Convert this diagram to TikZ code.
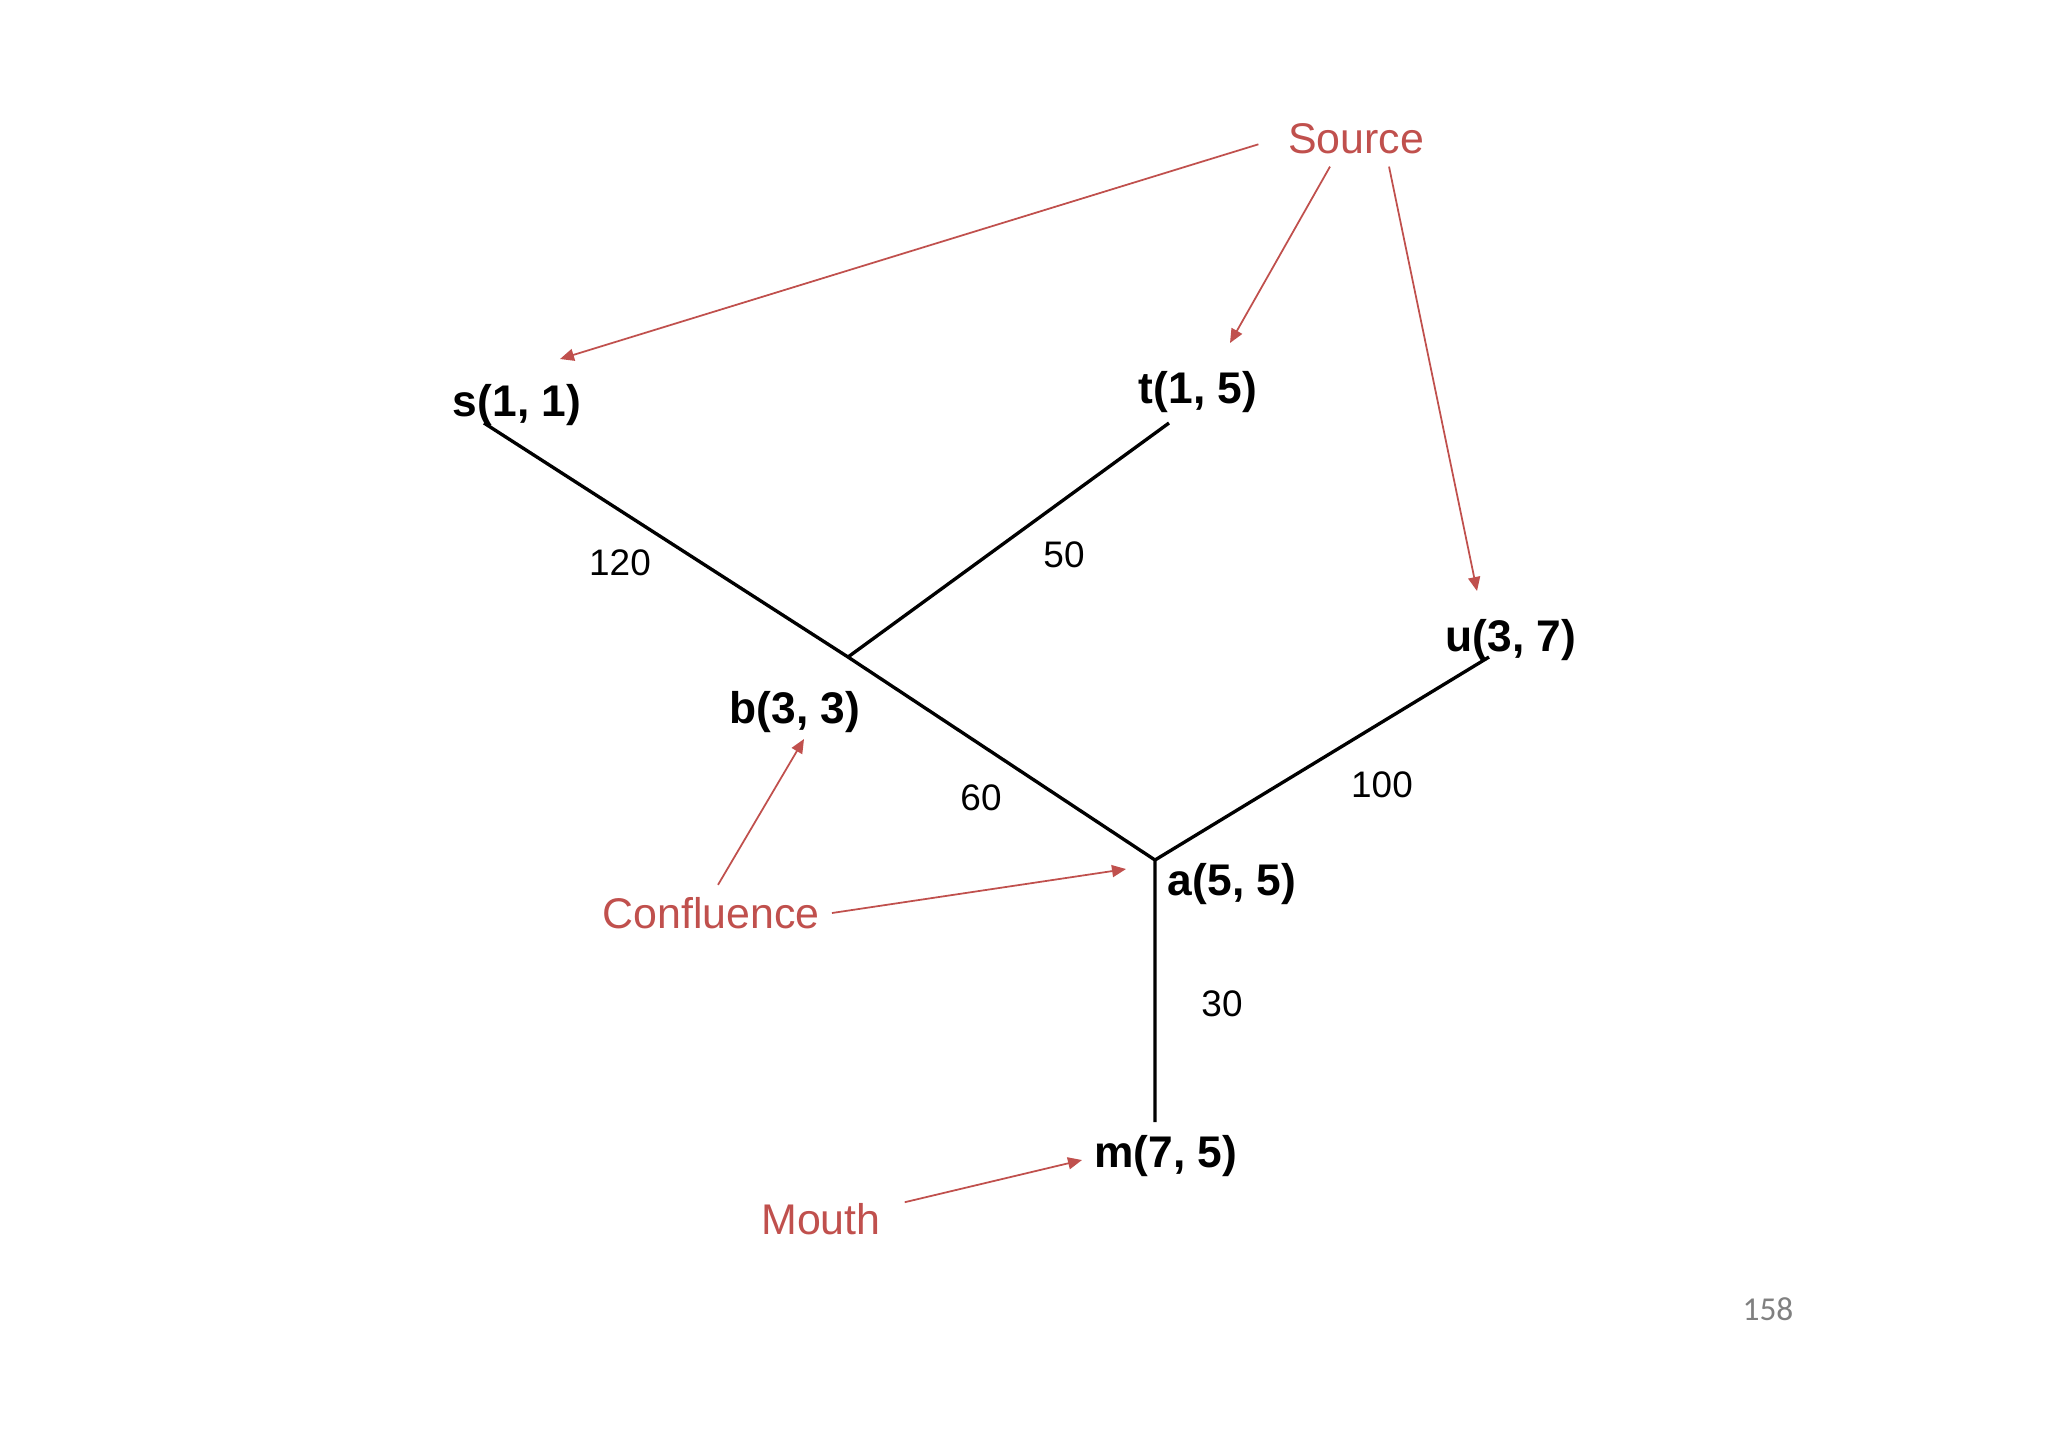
\documentclass[tikz,border=0pt]{standalone}
\usepackage{fontspec}
\setmainfont{Liberation Sans}
\newfontfamily\slidefont{Carlito}
\usetikzlibrary{arrows.meta}
\definecolor{callred}{HTML}{C0504D}
\definecolor{numgray}{RGB}{128,128,128}

\begin{document}
\begin{tikzpicture}[x=0.01cm,y=-0.01cm,
  vert/.style={font=\fontsize{12.6}{14}\selectfont\bfseries},
  wt/.style={font=\fontsize{10.5}{12}\selectfont},
  tag/.style={font=\fontsize{12.2}{14}\selectfont,text=callred},
  river/.style={line width=0.95pt},
  callout/.style={callred,line width=0.5pt,-{Triangle[length=0.14cm,width=0.12cm]}}]
\useasboundingbox (0,0) rectangle (2048,1447);
\coordinate (s0) at (484,423);
\coordinate (t0) at (1169,423);
\coordinate (u0) at (1489,657);
\coordinate (b) at (848,657);
\coordinate (a) at (1155,860);
\coordinate (m0) at (1155,1122);
\draw[river] (s0)--(b)--(a)--(m0);
\draw[river] (t0)--(b);
\draw[river] (u0)--(a);
\node[vert] (slab) at (517,405) {s(1, 1)};
\node[vert] (tlab) at (1198,392) {t(1, 5)};
\node[vert] (ulab) at (1511,640) {u(3, 7)};
\node[vert] (blab) at (795,712) {b(3, 3)};
\node[vert] (alab) at (1232,884) {a(5, 5)};
\node[vert] (mlab) at (1166,1156) {m(7, 5)};
\node[wt] (wsb) at (620,563) {120};
\node[wt] (wtb) at (1064,555) {50};
\node[wt] (wba) at (981,798) {60};
\node[wt] (wua) at (1382,785) {100};
\node[wt] (wam) at (1222,1004) {30};
\node[tag] (src) at (1356,139) {Source};
\node[tag] (conf) at (711,913) {Confluence};
\node[tag] (mouth) at (821,1219) {Mouth};
\node[font=\slidefont\fontsize{9.5}{11}\selectfont,text=numgray] (pnum) at (1768,1309) {158};
\coordinate (sTip) at (560,359);
\coordinate (tTip) at (1230,343);
\coordinate (uTip) at (1477,591);
\coordinate (bTip) at (804,739);
\coordinate (aTip) at (1126,869);
\coordinate (mTip) at (1082,1160);
\draw[callout,shorten <=0.18cm] (src.west)--(sTip);
\draw[callout] ([xshift=-0.26cm]src.south)--(tTip);
\draw[callout] ([xshift=0.33cm]src.south)--(uTip);
\draw[callout] ([xshift=0.07cm]conf.north)--(bTip);
\draw[callout] (conf.east)--(aTip);
\draw[callout,shorten <=0.12cm] ([yshift=0.14cm]mouth.east)--(mTip);
\end{tikzpicture}
\end{document}
